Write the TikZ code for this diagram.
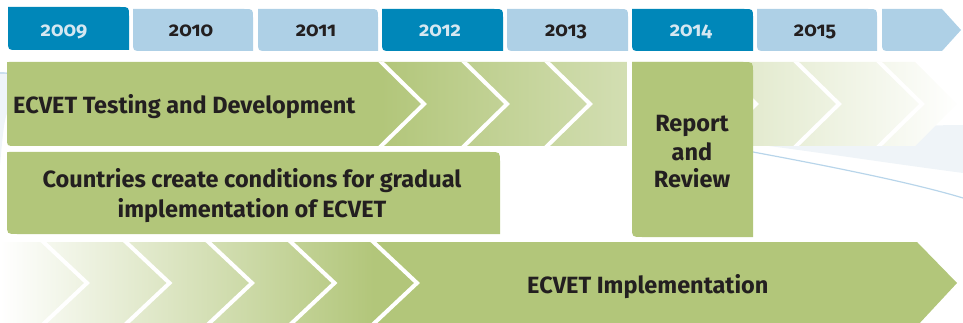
\documentclass[tikz,border=0pt]{standalone}
\usepackage{fontspec}
\setmainfont{Fira Sans}[Numbers=OldStyle]
\definecolor{tabdark}{HTML}{0087B9}
\definecolor{tablight}{HTML}{AED0E6}
\definecolor{yeardark}{HTML}{D5E7F1}
\definecolor{ink}{HTML}{231F20}
\definecolor{leaf}{HTML}{B2C67A}
\definecolor{swoosh}{HTML}{B8D5EA}
\definecolor{swooshfill}{HTML}{EFF4F8}
\newcommand\tabpath[4]{(#1,#2) -- ({#3-9},#2) .. controls (#3,#2) .. (#3,{#2+9}) -- (#3,#4) -- ({#1+9},#4) .. controls (#1,#4) .. (#1,{#4-9}) -- cycle}
\newcommand\rowonepath{(7,64) .. controls (7,62) .. (9,62) -- (915,62) -- (957,104) -- (915,146) -- (15,146) .. controls (7,146) .. (7,138) -- cycle}
\newcommand\rowthreepath{(0,242) -- (917,242) -- (957,283) -- (917,326) -- (0,326) -- cycle}
\tikzset{
  chev/.style={draw=white, line width=4pt, line join=miter},
  yeartxt/.style={anchor=base, inner sep=0pt, font=\fontsize{20}{22}\selectfont\bfseries},
  bigtxt/.style={inner sep=0pt, text=ink, font=\fontsize{23.5}{29}\selectfont\bfseries},
}
\begin{document}
\begin{tikzpicture}[x=1pt,y=-1pt]
\useasboundingbox (0,0) rectangle (963,323);
% background swoosh
\fill[swooshfill] (0,72) .. controls (350,85) and (650,130) .. (963,125) -- (963,173) .. controls (850,158) and (780,146) .. (700,138) -- (20,100) .. controls (5,110) .. (0,165) -- cycle;
\draw[swoosh, line width=1.2pt] (0,73) .. controls (300,80) and (600,125) .. (753,152) .. controls (850,170) and (920,185) .. (963,198);
% year tabs
\fill[tabdark]  \tabpath{8}{7}{129}{50};
\fill[tablight] \tabpath{133}{9}{253}{51};
\fill[tablight] \tabpath{258}{9}{378}{51};
\fill[tabdark]  \tabpath{382}{9}{503}{51};
\fill[tablight] \tabpath{507}{9}{628}{51};
\fill[tabdark]  \tabpath{632}{9}{753}{51};
\fill[tablight] \tabpath{757}{9}{877}{51};
\fill[tablight] (882,9) -- (942,9) -- (961,30) -- (942,51) -- (891,51) .. controls (882,51) .. (882,42) -- cycle;
\node[yeartxt, text=yeardark] (y2009) at (64,37) {2009};
\node[yeartxt, text=ink] (y2010) at (191,37) {2010};
\node[yeartxt, text=ink] (y2011) at (316,37) {2011};
\node[yeartxt, text=yeardark] (y2012) at (440,37) {2012};
\node[yeartxt, text=ink] (y2013) at (566,37) {2013};
\node[yeartxt, text=yeardark] (y2014) at (691,37) {2014};
\node[yeartxt, text=ink] (y2015) at (815,37) {2015};
% row 1
\begin{scope}
  \clip \rowonepath;
  \fill[leaf] (0,55) rectangle (382,150);
  \shade[left color=leaf, right color=white] (381,55) rectangle (962,150);
  \foreach \x in {381,464,547,630,713,796,879}
    \draw[chev] (\x-5,57) -- (\x+43,104) -- (\x-5,151);
\end{scope}
% row 3
\begin{scope}
  \clip \rowthreepath;
  \shade[left color=white, right color=leaf] (0,236) rectangle (374,330);
  \fill[leaf] (373,236) rectangle (963,330);
  \foreach \x in {43,125.5,208,290.5,373}
    \draw[chev] (\x-6,236) -- (\x+44,283) -- (\x-6,330);
\end{scope}
% row 2
\fill[leaf] (7,154) .. controls (7,152) .. (9,152) -- (490,152) .. controls (500,152) .. (500,162) -- (500,234) -- (17,234) .. controls (7,234) .. (7,224) -- cycle;
% report box
\fill[white] (627,60) rectangle (632,148);
\fill[leaf] (632,62) -- (743,62) .. controls (753,62) .. (753,72) -- (753,237) -- (642,237) .. controls (632,237) .. (632,227) -- cycle;
% texts
\node[bigtxt, anchor=base west] (ttest) at (13,114) {ECVET Testing and Development};
\node[bigtxt, anchor=base, align=center] (tcountries) at (252,217) {Countries create conditions for gradual\\implementation of ECVET};
\node[bigtxt, anchor=base, align=center, font=\fontsize{23.5}{28}\selectfont\bfseries] (treport) at (692,188) {Report\\and\\Review};
\node[bigtxt, anchor=base west] (timpl) at (527,293) {ECVET Implementation};
\end{tikzpicture}
\end{document}
